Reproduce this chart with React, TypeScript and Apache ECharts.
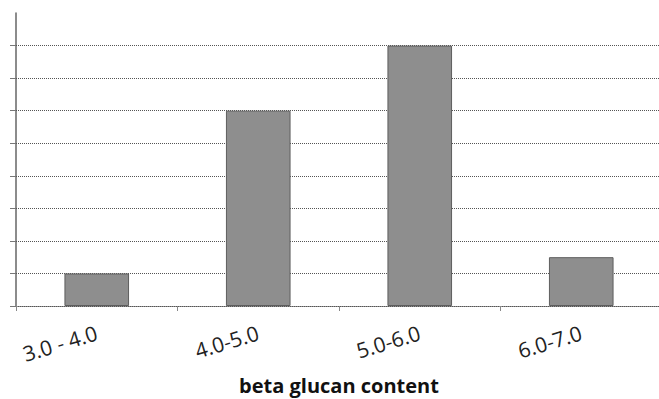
import React, { useEffect, useRef } from "react";
import * as echarts from "echarts";

const categories = ["3.0 - 4.0", "4.0-5.0", "5.0-6.0", "6.0-7.0"];
const counts = [1, 6, 8, 1.5];
const gridValues = [1, 2, 3, 4, 5, 6, 7, 8];
const tickValues = [0, 1, 2, 3, 4, 5, 6, 7, 8];
const axisTitle = "beta glucan content";

export default function App() {
  const ref = useRef<HTMLDivElement>(null);
  useEffect(() => {
    if (!ref.current) return;
    const chart = echarts.init(ref.current, undefined, { renderer: "svg" });
    chart.setOption({
      animation: false,
      backgroundColor: "#ffffff",
      grid: {
        left: 16,
        top: 13,
        width: 646,
        height: 293,
        containLabel: false,
        outerBoundsMode: "none",
      },
      xAxis: {
        type: "category",
        data: categories,
        axisLine: { show: true, lineStyle: { color: "#555", width: 1, type: [1, 1] } },
        axisTick: { show: true, length: 5, lineStyle: { color: "#888" } },
        axisLabel: {
          rotate: 17,
          margin: 26,
          fontSize: 21,
          color: "#222",
          fontFamily: "Open Sans",
        },
        name: axisTitle,
        nameLocation: "middle",
        nameGap: 69,
        nameTextStyle: {
          fontSize: 20,
          lineHeight: 20,
          fontWeight: "bold",
          color: "#111",
          fontFamily: "Open Sans",
        },
      },
      yAxis: {
        type: "value",
        min: 0,
        max: 9,
        interval: 1,
        axisLine: { show: true, lineStyle: { color: "#666", width: 1.5 } },
        axisTick: { show: true, length: 6, customValues: tickValues, lineStyle: { color: "#777" } },
        axisLabel: { show: false },
        splitLine: { show: false },
      },
      series: [
        {
          type: "bar",
          data: counts,
          barWidth: "40%",
          itemStyle: { color: "#8e8e8e", borderColor: "#5e5e5e", borderWidth: 1 },
          markLine: {
            silent: true,
            symbol: ["none", "none"],
            label: { show: false },
            lineStyle: { color: "#555", width: 1, type: [1, 1] },
            data: gridValues.map((v) => ({ yAxis: v })),
            z: 1,
          },
        },
      ],
    });
    return () => chart.dispose();
  }, []);
  return (
    <div
      ref={ref}
      style={{ position: "fixed", left: 0, top: 0, width: 659, height: 399 }}
    />
  );
}
